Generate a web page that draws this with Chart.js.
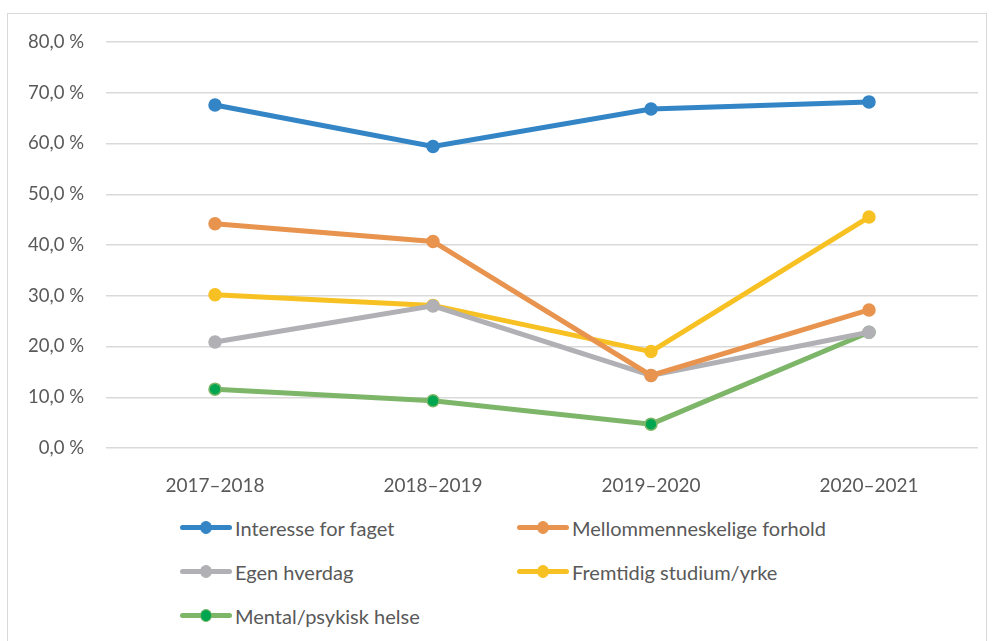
<!DOCTYPE html>
<html>
<head>
<meta charset="utf-8">
<script src="https://cdn.jsdelivr.net/npm/chart.js@4/dist/chart.umd.min.js"></script>
<style>
  body { margin: 0; background: #fff; font-family: Lato, "Open Sans", sans-serif; }
  #frame { position: absolute; left: 7px; top: 13px; width: 980px; height: 640px; border: 1px solid #d9d9d9; box-sizing: border-box; }
  #wrap { position: absolute; left: 0; top: 0; width: 992px; height: 500px; }
  #legend { position: absolute; left: 180px; top: 512px; width: 760px; display: grid; grid-template-columns: 337px 400px; row-gap: 13px; color: #595959; font-size: 20px; }
  .item { display: flex; align-items: center; height: 31px; }
  .sw { position: relative; width: 52px; height: 5px; border-radius: 3px; margin-right: 3px; flex: none; }
  .sw i { position: absolute; left: 20px; top: -4px; width: 12px; height: 13px; border-radius: 50%; box-sizing: border-box; }
</style>
</head>
<body>
<div id="frame"></div>
<div id="wrap"><canvas id="chart"></canvas></div>
<div id="legend"></div>
<script>
const years = ['2017\u20132018', '2018\u20132019', '2019\u20132020', '2020\u20132021'];
const interesse = [67.6, 59.4, 66.8, 68.2];
const mellom = [44.2, 40.7, 14.3, 27.2];
const hverdag = [20.9, 28.0, 14.3, 22.8];
const fremtidig = [30.2, 28.1, 19.0, 45.5];
const mental = [11.6, 9.3, 4.7, 22.8];

const series = [
  { label: 'Interesse for faget', data: interesse, color: '#3385c6', point: '#3385c6' },
  { label: 'Mellommenneskelige forhold', data: mellom, color: '#e8944f', point: '#e8944f' },
  { label: 'Egen hverdag', data: hverdag, color: '#b1b1b5', point: '#b1b1b5' },
  { label: 'Fremtidig studium/yrke', data: fremtidig, color: '#f7c124', point: '#f7c124' },
  { label: 'Mental/psykisk helse', data: mental, color: '#7db668', point: '#00a550' }
];

const ctx = document.getElementById('chart').getContext('2d');
new Chart(ctx, {
  type: 'line',
  data: {
    labels: years,
    datasets: series.map(s => ({
      label: s.label,
      data: s.data,
      borderColor: s.color,
      backgroundColor: s.point,
      pointBackgroundColor: s.point,
      pointBorderColor: s.color,
      pointBorderWidth: 1.5,
      borderWidth: 5,
      pointRadius: 6,
      tension: 0
    }))
  },
  options: {
    responsive: true,
    maintainAspectRatio: false,
    animation: false,
    layout: { padding: { left: 7, top: 42, right: 14, bottom: 0 } },
    plugins: { legend: { display: false }, tooltip: { enabled: false } },
    scales: {
      x: {
        offset: true,
        grid: { display: false },
        border: { display: false },
        ticks: { color: '#595959', font: { family: 'Lato', size: 19 }, padding: 18 },
        afterFit: scale => { scale.height = 52; }
      },
      y: {
        min: 0,
        max: 80,
        ticks: {
          stepSize: 10,
          color: '#595959',
          font: { family: 'Lato', size: 18.5 },
          padding: 22,
          callback: v => v.toFixed(1).replace('.', ',') + ' %'
        },
        grid: { color: '#d9d9d9', lineWidth: 1.5, drawTicks: false },
        border: { display: false },
        afterFit: scale => { scale.width = 99; }
      }
    }
  }
});

// legend in two columns, like the original
const legend = document.getElementById('legend');
series.forEach(s => {
  const item = document.createElement('div');
  item.className = 'item';
  item.innerHTML = '<span class="sw" style="background:' + s.color + '"><i style="background:' + s.point +
    ';border:1.5px solid ' + s.color + '"></i></span><span>' + s.label + '</span>';
  legend.appendChild(item);
});
</script>
</body>
</html>
